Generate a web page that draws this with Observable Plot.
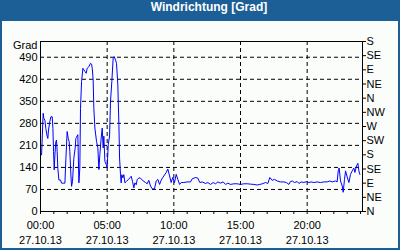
<!DOCTYPE html>
<html>
<head>
<meta charset="utf-8">
<script src="https://cdn.jsdelivr.net/npm/d3@7"></script>
<script src="https://cdn.jsdelivr.net/npm/@observablehq/plot@0.6"></script>
<style>
  html, body { margin: 0; padding: 0; background: #ffffff; }
  #box { position: relative; width: 400px; height: 250px; background: #1c5e96; overflow: hidden; }
  #title { position: absolute; left: 0; top: 0; width: 400px; height: 21px; line-height: 21px;
           padding-left: 18px; box-sizing: border-box; text-align: center;
           color: #ffffff; font: bold 12px "Liberation Sans", Arial, sans-serif; }
  #panel { position: absolute; left: 2px; top: 21px; width: 396px; height: 227px; background: #fbfdfb; }
  #panel svg { display: block; }
</style>
</head>
<body>
<div id="box">
  <div id="title">Windrichtung [Grad]</div>
  <div id="panel"></div>
</div>
<script>
// Time of day in hours (27.10.13) and wind direction in degrees
const hours = [
  0.08, 0.2, 0.25, 0.33, 0.4, 0.48, 0.55, 0.6, 0.7, 0.78, 0.88, 0.93, 0.98, 1.03, 1.08, 1.15, 1.2, 1.25, 1.3, 1.38,
  1.5, 1.58, 1.75, 1.83, 1.9, 2.0, 2.08, 2.15, 2.2, 2.28, 2.33, 2.4, 2.5, 2.6, 2.65, 2.68, 2.8, 2.88, 2.95, 3.0,
  3.08, 3.18, 3.25, 3.33, 3.43, 3.5, 3.63, 3.75, 3.83, 3.88, 3.95, 4.0, 4.08, 4.2, 4.3, 4.38, 4.45, 4.55, 4.63, 4.7,
  4.75, 4.83, 4.93, 5.0, 5.08, 5.18, 5.25, 5.35, 5.45, 5.53, 5.63, 5.7, 5.8, 5.88, 5.93, 6.0, 6.05, 6.1, 6.18, 6.25,
  6.33, 6.45, 6.58, 6.7, 6.8, 6.9, 7.0, 7.08, 7.18, 7.25, 7.38, 7.5, 7.7, 7.88, 8.0, 8.12, 8.25, 8.38, 8.55, 8.68,
  8.8, 8.93, 9.05, 9.17, 9.3, 9.43, 9.55, 9.68, 9.8, 9.92, 10.05, 10.18, 10.3, 10.43, 10.55, 10.75, 11.0, 11.25, 11.38, 11.63,
  11.8, 11.95, 12.13, 12.38, 12.55, 12.75, 12.95, 13.13, 13.3, 13.5, 13.7, 13.88, 14.05, 14.25, 14.5, 14.75, 15.0, 15.25, 15.5, 15.75,
  16.0, 16.25, 16.45, 16.63, 16.88, 17.05, 17.2, 17.38, 17.55, 17.75, 18.0, 18.25, 18.45, 18.63, 18.75, 18.88, 19.05, 19.25, 19.38, 19.55,
  19.75, 19.95, 20.13, 20.3, 20.5, 20.75, 21.0, 21.25, 21.5, 21.7, 21.88, 22.13, 22.25, 22.33, 22.4, 22.5, 22.63, 22.7, 22.8, 22.88,
  23.0, 23.13, 23.25, 23.38, 23.5, 23.58, 23.7, 23.8, 23.88, 23.95
];
const degrees = [
  180, 312, 296, 290, 264, 243, 232, 259, 286, 301, 301, 264, 190, 132, 180, 222, 227, 190, 137, 100,
  100, 90, 90, 90, 164, 254, 232, 222, 190, 116, 80, 95, 169, 201, 232, 234, 244, 91, 138, 328,
  413, 455, 450, 445, 439, 455, 460, 471, 468, 455, 418, 328, 265, 223, 202, 133, 181, 233, 265, 202,
  239, 159, 149, 138, 212, 240, 350, 413, 487, 492, 481, 471, 402, 276, 170, 117, 91, 117, 107, 117,
  91, 96, 101, 107, 112, 96, 75, 91, 85, 101, 107, 106, 97, 92, 88, 99, 81, 72, 72, 97,
  102, 86, 99, 108, 116, 124, 135, 113, 92, 108, 92, 118, 102, 86, 92, 92, 94, 94, 104, 108,
  106, 92, 94, 89, 92, 86, 92, 88, 94, 90, 94, 86, 90, 86, 88, 88, 86, 88, 88, 87,
  86, 84, 86, 88, 92, 89, 108, 99, 102, 97, 94, 94, 92, 86, 95, 97, 92, 95, 89, 94,
  92, 95, 92, 94, 92, 94, 92, 94, 94, 97, 94, 97, 94, 129, 138, 97, 81, 61, 102, 129,
  110, 92, 118, 129, 138, 124, 145, 153, 129, 118
];
const leftTicks = [0, 70, 140, 210, 280, 350, 420, 490];
const gridValues = [70, 140, 210, 280, 350, 420, 490];
const compassTicks = [0, 45, 90, 135, 180, 225, 270, 315, 360, 405, 450, 495, 540];
const compassLabels = ["N", "NE", "E", "SE", "S", "SW", "W", "NW", "N", "NE", "E", "SE", "S"];
const hourTicks = d3.range(0, 25);
const majorHours = [0, 5, 10, 15, 20];
const timeLabels = ["00:00", "05:00", "10:00", "15:00", "20:00"];
const dateLabel = "27.10.13";

const data = hours.map((h, i) => ({h, v: degrees[i]}));

const chart = Plot.plot({
  width: 396,
  height: 227,
  marginLeft: 38,
  marginRight: 36,
  marginTop: 20,
  marginBottom: 37,
  style: {fontFamily: "'Liberation Sans', Arial, sans-serif", fontSize: "11px", background: "transparent", color: "#000"},
  x: {domain: [0, 24.15]},
  y: {domain: [0, 540]},
  marks: [
    Plot.gridY(gridValues, {stroke: "#000", strokeOpacity: 1, strokeDasharray: "4,3"}),
    Plot.gridX(majorHours.filter(d => d > 0), {stroke: "#000", strokeOpacity: 1, strokeDasharray: "4,3"}),
    Plot.line(data, {x: "h", y: "v", stroke: "#0000ff", strokeWidth: 1}),
    Plot.frame({stroke: "#000"}),
    Plot.axisY(leftTicks, {anchor: "left", tickSize: 0, tickPadding: 3, label: null}),
    Plot.axisY(compassTicks, {anchor: "right", tickSize: 3, tickPadding: 1, label: null,
      tickFormat: d => compassLabels[compassTicks.indexOf(d)]}),
    Plot.axisX(hourTicks, {anchor: "bottom", tickSize: 3, tickFormat: () => "", label: null}),
    Plot.axisX(majorHours, {anchor: "bottom", tickSize: 0, tickPadding: 10, label: null,
      tickFormat: d => timeLabels[majorHours.indexOf(d)]}),
    Plot.axisX(majorHours, {anchor: "bottom", tickSize: 0, tickPadding: 25, label: null,
      tickFormat: () => dateLabel}),
    Plot.text(["Grad"], {frameAnchor: "top-left", text: d => d, textAnchor: "end", dx: -3, dy: 0})
  ]
});
document.getElementById("panel").appendChild(chart);
</script>
</body>
</html>
